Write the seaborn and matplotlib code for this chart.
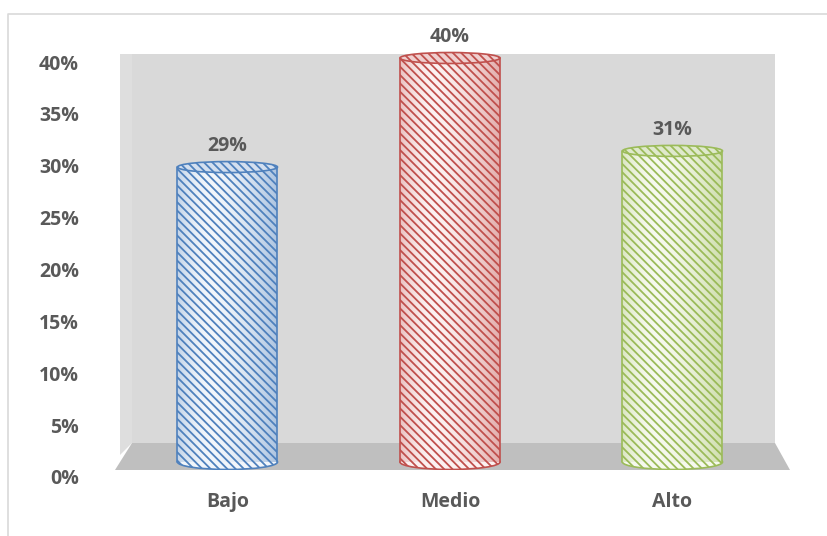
import numpy as np
import matplotlib
matplotlib.use("Agg")
import matplotlib.pyplot as plt
import seaborn as sns
from matplotlib.patches import Ellipse, Polygon, Rectangle
from matplotlib.colors import to_rgba

# ---- data ----
categories = ["Bajo", "Medio", "Alto"]
values = [0.292, 0.400, 0.308]
tick_values = [0.00, 0.05, 0.10, 0.15, 0.20, 0.25, 0.30, 0.35, 0.40]
tick_labels = ["0%", "5%", "10%", "15%", "20%", "25%", "30%", "35%", "40%"]

edge_colors = ["#4f81bd", "#c0504d", "#9bbb59"]
face_colors = ["#f2f6fb", "#fcf1f1", "#f6f9ee"]
top_colors = ["#d3dfef", "#efcfcf", "#dfe9cc"]

sns.set_theme(style="white")
plt.rcParams['font.family'] = ['Open Sans', 'DejaVu Sans']
plt.rcParams['hatch.linewidth'] = 1.3

W, H = 828, 536
fig = plt.figure(figsize=(W / 100, H / 100), dpi=100)


def fx(x):
    return x / W


def fy(y):
    return 1 - y / H


TXT = "#595959"
HATCH = "\\\\\\\\"

# chart border (top & left visible)
fig.add_artist(plt.Line2D([fx(8), fx(8), fx(W + 5)], [fy(H + 5), fy(14), fy(14)],
                          color="#d9d9d9", lw=1.2, transform=fig.transFigure, zorder=-3))
# side wall strip, back wall and floor
fig.add_artist(Polygon([(fx(120), fy(54)), (fx(132), fy(54)), (fx(132), fy(443)), (fx(120), fy(455))],
                       closed=True, transform=fig.transFigure, facecolor="#dedede",
                       edgecolor="none", zorder=-2))
fig.add_artist(Rectangle((fx(132), fy(443)), fx(775) - fx(132), fy(54) - fy(443),
                         transform=fig.transFigure, facecolor="#d9d9d9",
                         edgecolor="none", zorder=-2))
fig.add_artist(Polygon([(fx(132), fy(443)), (fx(775), fy(443)), (fx(790), fy(470)), (fx(115), fy(470))],
                       closed=True, transform=fig.transFigure, facecolor="#bfbfbf",
                       edgecolor="none", zorder=-2))

# ---- main data axes (pixel mapping: x -> 227.5 + 222.5*i, y -> 462 - 1010*v) ----
ax_l, ax_r, ax_t, ax_b = 115, 788, 50, 470
ax = fig.add_axes([fx(ax_l), fy(ax_b), fx(ax_r) - fx(ax_l), fy(ax_t) - fy(ax_b)])
ax.patch.set_alpha(0)

bar_w = 100 / 222.5
sns.barplot(x=categories, y=values, hue=categories, palette=face_colors, legend=False,
            width=bar_w, linewidth=0, saturation=1, ax=ax, zorder=2)

xmin = (ax_l - 227.5) / 222.5
xmax = (ax_r - 227.5) / 222.5
ymin = -(ax_b - 462) / 1010
ymax = (462 - ax_t) / 1010

eh_top = 11 / 1010
eh_bot = 15 / 1010

t = np.linspace(0, 1, 256)
alpha_prof = np.where(t < 0.35, 0.30 * ((0.35 - t) / 0.35) ** 2,
                      0.42 * ((t - 0.35) / 0.65) ** 1.6)

for i, bar in enumerate(ax.patches[:len(categories)]):
    ec = edge_colors[i]
    bar.set_edgecolor(ec)
    bar.set_linewidth(0)
    bar.set_hatch(HATCH)
    x0 = bar.get_x()
    w = bar.get_width()
    h = bar.get_height()
    cx = x0 + w / 2
    # bottom ellipse
    ax.add_patch(Ellipse((cx, 0), w, eh_bot, facecolor=face_colors[i], edgecolor=ec,
                         hatch=HATCH, lw=1.2, zorder=1.5))
    # shading overlay
    rgba = np.zeros((1, 256, 4))
    rgba[..., :3] = to_rgba(ec)[:3]
    rgba[..., 3] = alpha_prof
    im = ax.imshow(rgba, extent=[x0, x0 + w, 0, h], aspect="auto", zorder=2.5,
                   interpolation="bilinear")
    im.set_clip_path(bar)
    # sides
    ax.plot([x0, x0], [0, h], color=ec, lw=1.2, zorder=3)
    ax.plot([x0 + w, x0 + w], [0, h], color=ec, lw=1.2, zorder=3)
    # top ellipse
    ax.add_patch(Ellipse((cx, h), w, eh_top, facecolor=top_colors[i], edgecolor=ec,
                         hatch=HATCH, lw=1.2, zorder=4))
    # data label
    ax.annotate(f"{values[i]:.0%}", (cx, h), xytext=(0, 15), textcoords="offset points",
                ha="center", va="center", fontsize=14, fontweight="bold", color=TXT, zorder=5)

ax.set_xlim(xmin, xmax)
ax.set_ylim(ymin, ymax)
ax.set_yticks([])
ax.set_xlabel("")
ax.set_ylabel("")
ax.tick_params(axis="x", length=0, pad=16, labelsize=14, labelcolor=TXT)
for lab in ax.get_xticklabels():
    lab.set_fontweight("bold")
for s in ax.spines.values():
    s.set_visible(False)

# ---- y tick label axis ----
ax2 = fig.add_axes([fx(79), fy(477), 0.001, fy(62) - fy(477)])
ax2.patch.set_alpha(0)
ax2.set_ylim(0, 0.40)
ax2.set_xticks([])
ax2.set_yticks(tick_values)
ax2.set_yticklabels(tick_labels, fontsize=14, fontweight="bold", color=TXT)
ax2.tick_params(axis="y", length=0, pad=0)
for s in ax2.spines.values():
    s.set_visible(False)

fig.savefig("out.png", dpi=100)
